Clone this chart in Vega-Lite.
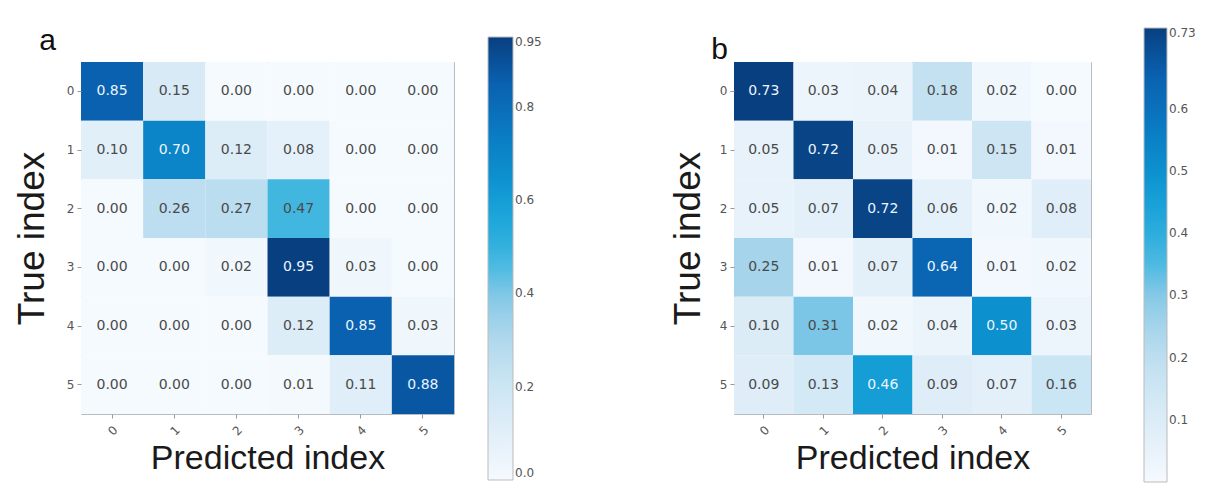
{
  "$schema": "https://vega.github.io/schema/vega-lite/v6.json",
  "padding": {"left": 12, "top": 25, "right": 0, "bottom": 0},
  "background": "white",
  "datasets": {
    "a": [
      {"t": 0, "p": 0, "v": 0.85}, {"t": 0, "p": 1, "v": 0.15}, {"t": 0, "p": 2, "v": 0.0}, {"t": 0, "p": 3, "v": 0.0}, {"t": 0, "p": 4, "v": 0.0}, {"t": 0, "p": 5, "v": 0.0},
      {"t": 1, "p": 0, "v": 0.10}, {"t": 1, "p": 1, "v": 0.70}, {"t": 1, "p": 2, "v": 0.12}, {"t": 1, "p": 3, "v": 0.08}, {"t": 1, "p": 4, "v": 0.0}, {"t": 1, "p": 5, "v": 0.0},
      {"t": 2, "p": 0, "v": 0.0}, {"t": 2, "p": 1, "v": 0.26}, {"t": 2, "p": 2, "v": 0.27}, {"t": 2, "p": 3, "v": 0.47}, {"t": 2, "p": 4, "v": 0.0}, {"t": 2, "p": 5, "v": 0.0},
      {"t": 3, "p": 0, "v": 0.0}, {"t": 3, "p": 1, "v": 0.0}, {"t": 3, "p": 2, "v": 0.02}, {"t": 3, "p": 3, "v": 0.95}, {"t": 3, "p": 4, "v": 0.03}, {"t": 3, "p": 5, "v": 0.0},
      {"t": 4, "p": 0, "v": 0.0}, {"t": 4, "p": 1, "v": 0.0}, {"t": 4, "p": 2, "v": 0.0}, {"t": 4, "p": 3, "v": 0.12}, {"t": 4, "p": 4, "v": 0.85}, {"t": 4, "p": 5, "v": 0.03},
      {"t": 5, "p": 0, "v": 0.0}, {"t": 5, "p": 1, "v": 0.0}, {"t": 5, "p": 2, "v": 0.0}, {"t": 5, "p": 3, "v": 0.01}, {"t": 5, "p": 4, "v": 0.11}, {"t": 5, "p": 5, "v": 0.88}
    ],
    "b": [
      {"t": 0, "p": 0, "v": 0.73}, {"t": 0, "p": 1, "v": 0.03}, {"t": 0, "p": 2, "v": 0.04}, {"t": 0, "p": 3, "v": 0.18}, {"t": 0, "p": 4, "v": 0.02}, {"t": 0, "p": 5, "v": 0.0},
      {"t": 1, "p": 0, "v": 0.05}, {"t": 1, "p": 1, "v": 0.72}, {"t": 1, "p": 2, "v": 0.05}, {"t": 1, "p": 3, "v": 0.01}, {"t": 1, "p": 4, "v": 0.15}, {"t": 1, "p": 5, "v": 0.01},
      {"t": 2, "p": 0, "v": 0.05}, {"t": 2, "p": 1, "v": 0.07}, {"t": 2, "p": 2, "v": 0.72}, {"t": 2, "p": 3, "v": 0.06}, {"t": 2, "p": 4, "v": 0.02}, {"t": 2, "p": 5, "v": 0.08},
      {"t": 3, "p": 0, "v": 0.25}, {"t": 3, "p": 1, "v": 0.01}, {"t": 3, "p": 2, "v": 0.07}, {"t": 3, "p": 3, "v": 0.64}, {"t": 3, "p": 4, "v": 0.01}, {"t": 3, "p": 5, "v": 0.02},
      {"t": 4, "p": 0, "v": 0.10}, {"t": 4, "p": 1, "v": 0.31}, {"t": 4, "p": 2, "v": 0.02}, {"t": 4, "p": 3, "v": 0.04}, {"t": 4, "p": 4, "v": 0.50}, {"t": 4, "p": 5, "v": 0.03},
      {"t": 5, "p": 0, "v": 0.09}, {"t": 5, "p": 1, "v": 0.13}, {"t": 5, "p": 2, "v": 0.46}, {"t": 5, "p": 3, "v": 0.09}, {"t": 5, "p": 4, "v": 0.07}, {"t": 5, "p": 5, "v": 0.16}
    ]
  },
  "config": {
    "view": {"stroke": "#b8bcc0", "strokeWidth": 1},
    "font": "DejaVu Sans",
    "axis": {
      "domain": false, "grid": false,
      "labelColor": "#555", "labelFontSize": 12, "labelFont": "DejaVu Sans",
      "tickColor": "#999", "tickSize": 4,
      "titleFont": "Liberation Sans", "titleFontSize": 34, "titleFontWeight": "normal", "titleColor": "#1a1a1a"
    },
    "legend": {
      "labelColor": "#555", "labelFontSize": 12, "labelFont": "DejaVu Sans",
      "gradientStrokeColor": "#bbb", "gradientStrokeWidth": 1
    },
    "title": {"font": "Liberation Sans", "fontSize": 30, "fontWeight": "normal", "color": "#111", "anchor": "start", "frame": "bounds"}
  },
  "resolve": {"scale": {"color": "independent"}},
  "bounds": "flush",
  "spacing": 280,
  "hconcat": [
    {
      "width": 373, "height": 352,
      "title": {"text": "a", "dx": 26, "dy": 27, "offset": 8},
      "data": {"name": "a"},
      "encoding": {
        "x": {"field": "p", "type": "ordinal", "title": "Predicted index", "scale": {"paddingInner": 0, "paddingOuter": 0},
              "axis": {"labelAngle": -45, "labelPadding": 6, "titlePadding": 4}},
        "y": {"field": "t", "type": "ordinal", "title": "True index", "scale": {"paddingInner": 0, "paddingOuter": 0},
              "axis": {"labelAngle": 0, "labelPadding": 3, "titlePadding": 15, "titleFontSize": 37}}
      },
      "layer": [
        {
          "mark": {"type": "rect"},
          "encoding": {
            "color": {"field": "v", "type": "quantitative",
              "scale": {"domain": [0, 0.95], "range": ["#f5fafe", "#e2eff9", "#cfe7f4", "#b6dbee", "#8fcbe8", "#3db6e0", "#1aa4da", "#0b8ecc", "#0a76c0", "#0a60ae", "#083f80"], "interpolate": "rgb"},
              "legend": {"title": null, "orient": "none", "legendX": 407, "legendY": -25, "direction": "vertical",
                         "gradientLength": 443, "gradientThickness": 25, "values": [0, 0.2, 0.4, 0.6, 0.8, 0.95],
                         "labelExpr": "datum.value == 0.95 ? '0.95' : format(datum.value, '.1f')"}}
          }
        },
        {
          "mark": {"type": "text", "fontSize": 14, "font": "DejaVu Sans"},
          "encoding": {
            "text": {"field": "v", "type": "quantitative", "format": ".2f"},
            "color": {"condition": {"test": "datum.v > 0.475", "value": "#eaf5fd"}, "value": "#4a4a4a"}
          }
        }
      ]
    },
    {
      "width": 357, "height": 352,
      "title": {"text": "b", "dx": 42, "dy": 27, "offset": -10},
      "data": {"name": "b"},
      "encoding": {
        "x": {"field": "p", "type": "ordinal", "title": "Predicted index", "scale": {"paddingInner": 0, "paddingOuter": 0},
              "axis": {"labelAngle": -45, "labelPadding": 6, "titlePadding": 4}},
        "y": {"field": "t", "type": "ordinal", "title": "True index", "scale": {"paddingInner": 0, "paddingOuter": 0},
              "axis": {"labelAngle": 0, "labelPadding": 3, "titlePadding": 12, "titleFontSize": 37}}
      },
      "layer": [
        {
          "mark": {"type": "rect"},
          "encoding": {
            "color": {"field": "v", "type": "quantitative",
              "scale": {"domain": [0, 0.73], "range": ["#f5fafe", "#e2eff9", "#cfe7f4", "#b6dbee", "#8fcbe8", "#3db6e0", "#1aa4da", "#0b8ecc", "#0a76c0", "#0a60ae", "#083f80"], "interpolate": "rgb"},
              "legend": {"title": null, "orient": "none", "legendX": 410, "legendY": -34, "direction": "vertical",
                         "gradientLength": 454, "gradientThickness": 23, "values": [0.1, 0.2, 0.3, 0.4, 0.5, 0.6, 0.73],
                         "labelExpr": "datum.value == 0.73 ? '0.73' : format(datum.value, '.1f')"}}
          }
        },
        {
          "mark": {"type": "text", "fontSize": 14, "font": "DejaVu Sans"},
          "encoding": {
            "text": {"field": "v", "type": "quantitative", "format": ".2f"},
            "color": {"condition": {"test": "datum.v > 0.365", "value": "#eaf5fd"}, "value": "#4a4a4a"}
          }
        }
      ]
    }
  ]
}
